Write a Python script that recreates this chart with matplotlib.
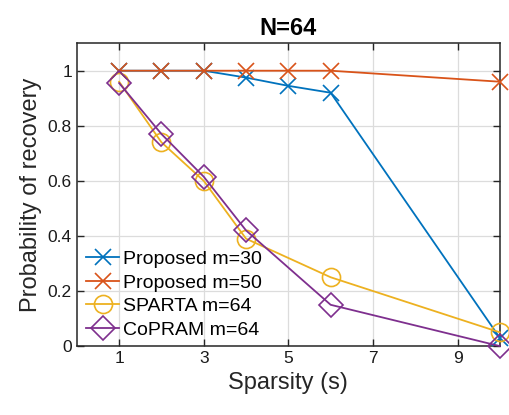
import matplotlib
matplotlib.use('Agg')
import matplotlib.pyplot as plt

plt.rcParams['font.family'] = ['Liberation Sans', 'DejaVu Sans']

s_all = [1, 2, 3, 4, 5, 6, 10]
prop30 = [1.0, 1.0, 1.0, 0.975, 0.945, 0.92, 0.03]
prop50 = [1.0, 1.0, 1.0, 1.0, 1.0, 1.0, 0.96]
s_base = [1, 2, 3, 4, 6, 10]
sparta = [0.96, 0.74, 0.60, 0.39, 0.25, 0.05]
copram = [0.955, 0.77, 0.615, 0.42, 0.15, 0.0]

fig = plt.figure(figsize=(5.09, 4.15), dpi=100)
ax = fig.add_axes([0.151, 0.166, 0.831, 0.730])

ax.plot(s_all, prop30, color='#0072BD', marker='x', ms=11, mew=1.2, lw=1.3,
        label='Proposed m=30', clip_on=False, zorder=3)
ax.plot(s_all, prop50, color='#D95319', marker='x', ms=11, mew=1.2, lw=1.3,
        label='Proposed m=50', clip_on=False, zorder=3)
ax.plot(s_base, sparta, color='#EDB120', marker='o', ms=13, mfc='none', mew=1.2,
        lw=1.3, label='SPARTA m=64', clip_on=False, zorder=3)
ax.plot(s_base, copram, color='#7E2F8E', marker='D', ms=12, mfc='none', mew=1.2,
        lw=1.3, label='CoPRAM m=64', clip_on=False, zorder=3)

ax.set_xlim(0, 10)
ax.set_ylim(0, 1.1)
ax.set_xticks([1, 3, 5, 7, 9])
ax.set_yticks([0, 0.2, 0.4, 0.6, 0.8, 1])
ax.set_yticklabels(['0', '0.2', '0.4', '0.6', '0.8', '1'])
ax.tick_params(direction='in', top=True, right=True, labelsize=12.5, length=5,
               width=1, colors='#262626', labelcolor='#1a1a1a')
ax.grid(True, color='#dcdcdc', lw=0.9)
ax.set_axisbelow(True)
for sp in ax.spines.values():
    sp.set_linewidth(1.1)
    sp.set_color('#262626')

ax.set_xlabel('Sparsity (s)', fontsize=17, color='#262626')
ax.set_ylabel('Probability of recovery', fontsize=17, color='#262626')
ax.set_title('N=64', fontsize=17, fontweight='bold')

ax.legend(loc='lower left', frameon=False, fontsize=14, handlelength=1.7,
          handletextpad=0.2, labelspacing=0.3, borderaxespad=0.3,
          bbox_to_anchor=(-0.01, -0.02))

fig.savefig('out.png', dpi=100)
